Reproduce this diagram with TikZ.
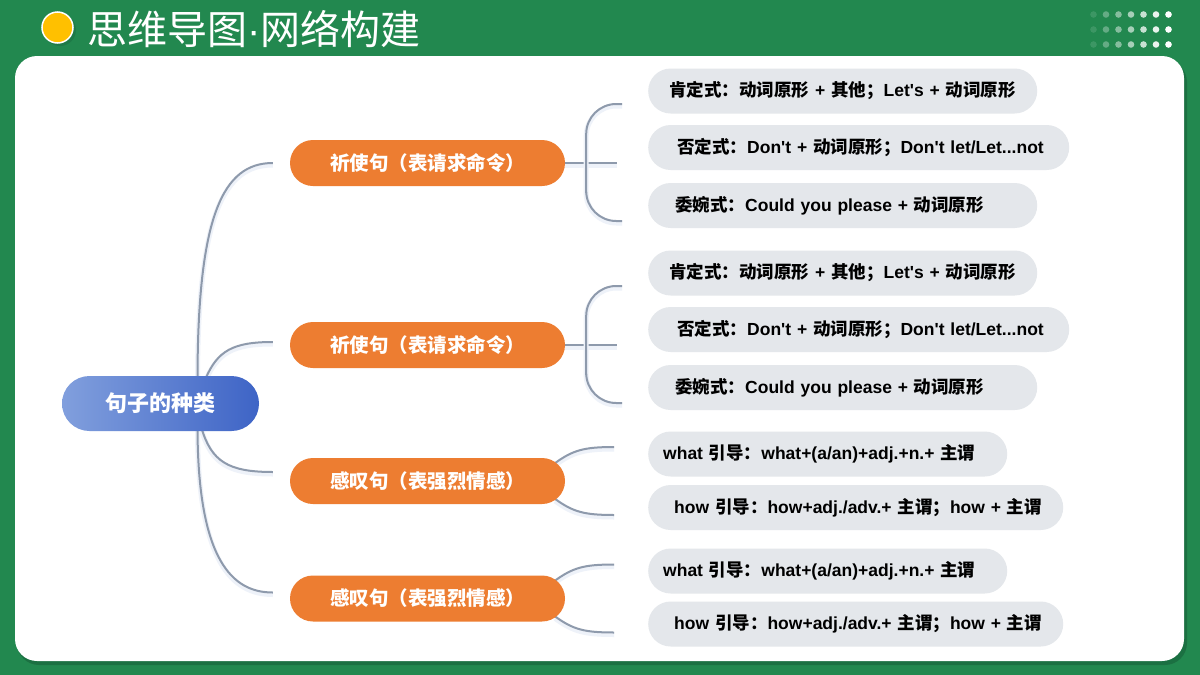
\documentclass[tikz,border=0pt]{standalone}
\usepackage{fontspec}
\setmainfont{Liberation Sans}[Ligatures=TeXOff]
\newfontfamily\cjk{Noto Sans CJK SC}
\newcommand{\zh}[1]{{\cjk #1}}
\usepackage{tikz}
\usetikzlibrary{positioning,calc}
\pgfdeclarelayer{panel}
\pgfdeclarelayer{wires}
\pgfsetlayers{panel,wires,main}
\definecolor{bggreen}{HTML}{22884F}
\definecolor{shgreen}{HTML}{17603A}
\definecolor{sunny}{HTML}{FFC000}
\definecolor{pillorange}{HTML}{ED7D31}
\definecolor{pillgray}{HTML}{E4E7EB}
\definecolor{rootlight}{HTML}{819FDD}
\definecolor{rootdark}{HTML}{3E64C6}
\definecolor{linegray}{HTML}{8E9AAC}
\definecolor{glow}{HTML}{EEF2F9}
\tikzset{
  branch/.style={draw=linegray, line width=2pt,
    preaction={draw=glow, line width=5pt, transform canvas={yshift=-2pt}}},
  rootpill/.style={rounded corners=27.5pt, minimum width=197pt, minimum height=55pt, inner sep=0pt,
    left color=rootlight, right color=rootdark, text=white, font=\fontsize{22}{24}\selectfont\bfseries},
  kind/.style={fill=pillorange, rounded corners=23pt, minimum width=275pt, minimum height=46pt, inner sep=0pt,
    text=white, font=\fontsize{19.5}{21}\selectfont\bfseries},
  leaf/.style={fill=pillgray, rounded corners=22.5pt, minimum height=45pt, inner ysep=0pt, anchor=west,
    align=left, font=\fontsize{17.5}{21}\selectfont\bfseries}
}
\begin{document}
\begin{tikzpicture}[x=1pt, y=-1pt]
\useasboundingbox (0,0) rectangle (1200,675);

% --- background and white panel ---
\begin{pgfonlayer}{panel}
\fill[bggreen] (0,0) rectangle (1200,675);
\fill[shgreen, opacity=0.6, rounded corners=22pt] (17,60) rectangle (1187,665);
\fill[white, rounded corners=22pt] (15,56) rectangle (1184,661);
\end{pgfonlayer}

% --- header ---
\fill[shgreen, opacity=0.35] (60,30) circle (16);
\node[circle, fill=sunny, draw=white, line width=1.5pt, minimum size=31pt, inner sep=0pt] (sun) at (57.5,27.5) {};
\node[anchor=west, text=white, inner sep=0pt, font=\fontsize{40}{41}\selectfont] (title) at (87,29) {\zh{思维导图}·\zh{网络构建}};
\foreach \i/\op in {0/0.12, 1/0.3, 2/0.45, 3/0.6, 4/0.75, 5/0.9, 6/1} {
  \foreach \j in {0,1,2} {
    \fill[white, opacity=\op] (1093.5+12.5*\i, 14.5+15*\j) circle (3.3);
  }
}

% --- root and first level ---
\node[rootpill] (root) at (160.5,403.5) {\zh{句子的种类}};
\node[kind] (o1) at (427.5,163) {\zh{祈使句（表请求命令）}};
\node[kind] (o2) at (427.5,345) {\zh{祈使句（表请求命令）}};
\node[kind] (o3) at (427.5,481) {\zh{感叹句（表强烈情感）}};
\node[kind] (o4) at (427.5,598.5) {\zh{感叹句（表强烈情感）}};

\coordinate (e1) at ([xshift=-17]o1.west);
\coordinate (e2) at ([shift={(-17,-3)}]o2.west);
\coordinate (e3) at ([shift={(-17,-9)}]o3.west);
\coordinate (e4) at ([shift={(-17,-6)}]o4.west);
\begin{pgfonlayer}{wires}
\draw[branch] ([shift={(37,5)}]root.north) .. controls +(0,-165) and +(-50,0) .. (e1);
\draw[branch] ([shift={(45,3)}]root.north) .. controls +(12,-28) and +(-40,0) .. (e2);
\draw[branch] ([shift={(41,-3)}]root.south) .. controls +(10,33) and +(-45,0) .. (e3);
\draw[branch] ([shift={(37,-5)}]root.south) .. controls +(0,135) and +(-40,0) .. (e4);
\end{pgfonlayer}

% --- leaves: imperative ---
\node[leaf, inner xsep=21pt, text width=347pt] (l11) at (648,91) {\mbox{\zh{肯定式：动词原形} + \zh{其他；}Let's + \zh{动词原形}}};
\node[leaf, inner xsep=29pt, text width=363pt] (l12) at (648,147.5) {\mbox{\zh{否定式：}Don't + \zh{动词原形；}Don't let/Let...not}};
\node[leaf, inner xsep=27pt, text width=335pt] (l13) at (648,205.5) {\mbox{\zh{委婉式：}Could you please + \zh{动词原形}}};
\node[leaf, inner xsep=21pt, text width=347pt] (l21) at (648,273) {\mbox{\zh{肯定式：动词原形} + \zh{其他；}Let's + \zh{动词原形}}};
\node[leaf, inner xsep=29pt, text width=363pt] (l22) at (648,329.5) {\mbox{\zh{否定式：}Don't + \zh{动词原形；}Don't let/Let...not}};
\node[leaf, inner xsep=27pt, text width=335pt] (l23) at (648,387.5) {\mbox{\zh{委婉式：}Could you please + \zh{动词原形}}};

% --- leaves: exclamatory ---
\node[leaf, inner xsep=15pt, text width=329pt] (l31) at (648,454) {\mbox{what \zh{引导：}what+(a/an)+adj.+n.+ \zh{主谓}}};
\node[leaf, inner xsep=26pt, text width=363pt] (l32) at (648,507.5) {\mbox{how \zh{引导：}how+adj./adv.+ \zh{主谓；}how + \zh{主谓}}};
\node[leaf, inner xsep=15pt, text width=329pt] (l41) at (648,571) {\mbox{what \zh{引导：}what+(a/an)+adj.+n.+ \zh{主谓}}};
\node[leaf, inner xsep=26pt, text width=363pt] (l42) at (648,624) {\mbox{how \zh{引导：}how+adj./adv.+ \zh{主谓；}how + \zh{主谓}}};

\begin{pgfonlayer}{wires}
% brackets for the imperative groups
\foreach \o in {o1,o2} {
  \coordinate (\o m) at ([xshift=52]\o.east);
  \coordinate (\o t) at ([shift={(57,-59)}]\o.east);
  \coordinate (\o b) at ([shift={(57,58)}]\o.east);
  \draw[branch] (\o.east) -- (\o m);
  \draw[branch, rounded corners=30pt] (\o t) -| ([xshift=21]\o.east) |- (\o b);
}

% forks for the exclamatory groups
\foreach \o in {o3,o4} {
  \coordinate (\o t) at ([shift={(49,-34)}]\o.east);
  \coordinate (\o b) at ([shift={(49,34)}]\o.east);
  \draw[branch] ([shift={(-10,-18)}]\o.east) .. controls +(18,-13) and +(-30,0) .. (\o t);
  \draw[branch] ([shift={(-10,18)}]\o.east) .. controls +(18,13) and +(-30,0) .. (\o b);
}
\end{pgfonlayer}

\end{tikzpicture}
\end{document}
